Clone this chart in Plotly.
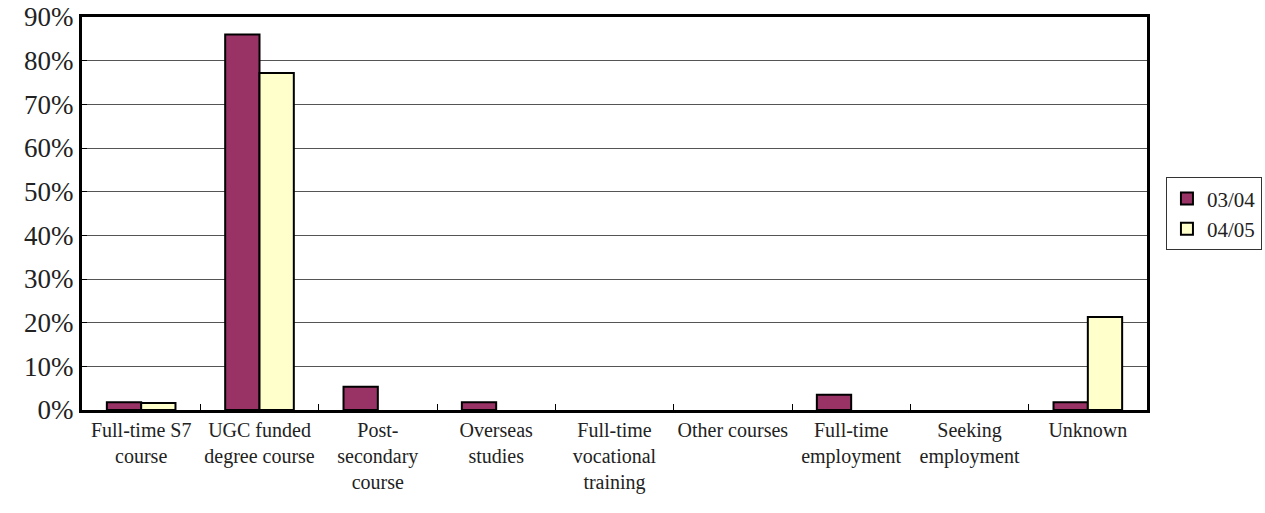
import plotly.graph_objects as go

categories = ["Full-time S7<br>course", "UGC funded<br>degree course", "Post-<br>secondary<br>course",
              "Overseas<br>studies", "Full-time<br>vocational<br>training", "Other courses",
              "Full-time<br>employment", "Seeking<br>employment", "Unknown"]
s0304 = [1.8, 86.0, 5.3, 1.8, 0.0, 0.0, 3.5, 0.0, 1.8]
s0405 = [1.6, 77.2, 0.0, 0.0, 0.0, 0.0, 0.0, 0.0, 21.3]
y_ticks = [0, 10, 20, 30, 40, 50, 60, 70, 80, 90]

font = "Liberation Serif"

fig = go.Figure()
fig.add_trace(go.Bar(x=categories, y=s0304, name="03/04",
                     marker=dict(color="#993366",
                                 line=dict(color="black", width=[2 if v > 0 else 0 for v in s0304]))))
fig.add_trace(go.Bar(x=categories, y=s0405, name="04/05",
                     marker=dict(color="#FFFFCC",
                                 line=dict(color="black", width=[2 if v > 0 else 0 for v in s0405]))))

fig.update_layout(
    width=1265, height=513,
    margin=dict(l=82, r=118, t=17, b=103),
    paper_bgcolor="white", plot_bgcolor="white",
    barmode="group", bargap=0.42, bargroupgap=0,
    font=dict(family=font, color="#222"),
    legend=dict(xref="container", yref="container", x=0.9217, y=0.583,
                xanchor="left", yanchor="middle",
                bordercolor="#333", borderwidth=1, font=dict(size=21, family=font, color="#222"),
                itemwidth=30, tracegroupgap=6),
    xaxis=dict(showline=True, linecolor="black", linewidth=3, mirror=True, automargin=False,
               tickangle=0,
               tickson="boundaries", ticks="inside", ticklen=6, tickcolor="black",
               tickfont=dict(size=20, family=font, color="#222")),
    yaxis=dict(range=[0, 90], tickvals=y_ticks, ticktext=[f"{v}%" for v in y_ticks],
               showline=True, linecolor="black", linewidth=3, mirror=True, automargin=False,
               ticklabeloverflow="allow",
               showgrid=True, gridcolor="#555", gridwidth=1,
               ticks="inside", ticklen=5, tickcolor="black",
               tickfont=dict(size=27, family=font, color="#222")),
)

fig.write_html("out.html",
               config={"displayModeBar": False, "responsive": False},
               post_script="document.body.style.margin='0px';document.body.style.overflow='hidden';")
